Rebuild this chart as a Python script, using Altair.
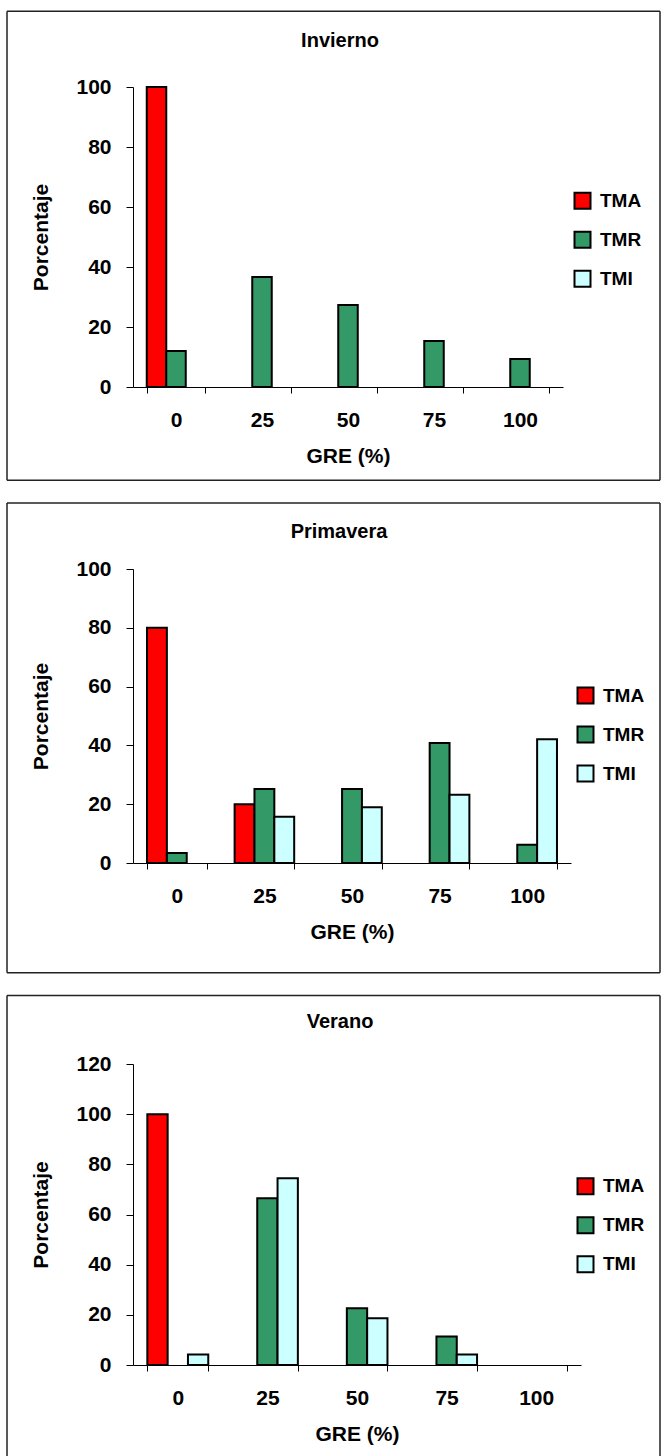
import altair as alt
import pandas as pd

gre = ["0", "25", "50", "75", "100"]
series = ["TMA", "TMR", "TMI"]
colors = ["#FF0000", "#339966", "#CCFFFF"]
titles = ["Invierno", "Primavera", "Verano"]

inv_tma = [100, 0, 0, 0, 0]
inv_tmr = [12.0, 36.7, 27.3, 15.3, 9.3]
inv_tmi = [0, 0, 0, 0, 0]

pri_tma = [80, 20, 0, 0, 0]
pri_tmr = [3.4, 25.2, 25.2, 40.8, 6.2]
pri_tmi = [0, 15.7, 19.0, 23.2, 42.1]

ver_tma = [100, 0, 0, 0, 0]
ver_tmr = [0, 66.5, 22.6, 11.4, 0]
ver_tmi = [4.2, 74.5, 18.6, 4.2, 0]

FONT = "Liberation Sans"


def table(tma, tmr, tmi):
    rows = []
    for s, vals in zip(series, [tma, tmr, tmi]):
        for g, v in zip(gre, vals):
            rows.append({"GRE": g, "Serie": s, "Porcentaje": v})
    return pd.DataFrame(rows)


def panel(df, title, W, H, ymax, top, bottom, closed, tx, ty, lx, ly):
    x1, x2 = -126, 527
    one = alt.Data(values=[{"k": 0}])
    rule = dict(color="#222222", strokeWidth=1.5)
    layers = [
        alt.Chart(one).mark_rule(**rule).encode(
            x=alt.value(x1), x2=alt.value(x2), y=alt.value(top)),
        alt.Chart(one).mark_rule(**rule).encode(
            x=alt.value(x1), y=alt.value(top), y2=alt.value(bottom)),
        alt.Chart(one).mark_rule(**rule).encode(
            x=alt.value(x2), y=alt.value(top), y2=alt.value(bottom)),
    ]
    if closed:
        layers.append(alt.Chart(one).mark_rule(**rule).encode(
            x=alt.value(x1), x2=alt.value(x2), y=alt.value(bottom)))
    layers.append(alt.Chart(one).mark_text(
        text=title, font=FONT, fontSize=20, fontWeight="bold",
        align="center", baseline="middle", color="black").encode(
        x=alt.value(tx), y=alt.value(ty)))
    bars = alt.Chart(df).transform_filter("datum.Porcentaje > 0").mark_bar(
        stroke="black", strokeWidth=2).encode(
        x=alt.X("GRE:N", sort=gre,
                scale=alt.Scale(domain=gre, paddingInner=0.32, paddingOuter=0.16),
                axis=alt.Axis(title="GRE (%)", labelAngle=0, tickBand="extent",
                              tickSize=6, labelPadding=16, titlePadding=15)),
        xOffset=alt.XOffset("Serie:N", scale=alt.Scale(domain=series, paddingInner=0, paddingOuter=0)),
        y=alt.Y("Porcentaje:Q", title="Porcentaje",
                scale=alt.Scale(domain=[0, ymax], nice=False, zero=True),
                axis=alt.Axis(values=list(range(0, ymax + 1, 20)), grid=False,
                              tickSize=7, labelPadding=15, titlePadding=24)),
        color=alt.Color("Serie:N", title=None,
                        scale=alt.Scale(domain=series, range=colors),
                        legend=alt.Legend(orient="none", legendX=lx, legendY=ly,
                                          symbolType="square", symbolSize=256,
                                          symbolStrokeColor="black", symbolStrokeWidth=2,
                                          labelFontSize=19, labelFont=FONT,
                                          labelFontWeight="bold", labelColor="black",
                                          labelOffset=8, rowPadding=14, padding=0)),
    )
    layers.append(bars)
    return alt.layer(*layers).properties(width=W, height=H)


p1 = panel(table(inv_tma, inv_tmr, inv_tmi), titles[0], 430, 300, 100,
           -75.7, 393.3, True, 207, -46.4, 440, 104.3)
p2 = panel(table(pri_tma, pri_tmr, pri_tmi), titles[1], 438, 294, 100,
           -66, 403.8, True, 206, -36.7, 443, 117)
p3 = panel(table(ver_tma, ver_tmr, ver_tmi), titles[2], 448, 301, 120,
           -68.6, 392.7, False, 207, -42.5, 443, 112.7)

chart = alt.vconcat(p1, p2, p3, spacing=20).resolve_scale(
    color="independent", x="independent", y="independent", xOffset="independent"
).resolve_legend(color="independent").configure_axis(
    labelFont=FONT, labelFontSize=21, labelFontWeight="bold", labelColor="black",
    titleFont=FONT, titleFontSize=21, titleFontWeight="bold", titleColor="black",
    domainColor="black", tickColor="black", domainWidth=1, tickWidth=1
).configure_view(strokeWidth=0).properties(
    padding={"left": 6, "top": 10, "right": 0, "bottom": 0}, background="white"
)

chart.save("out.html", embed_options={"renderer": "svg", "actions": False})
